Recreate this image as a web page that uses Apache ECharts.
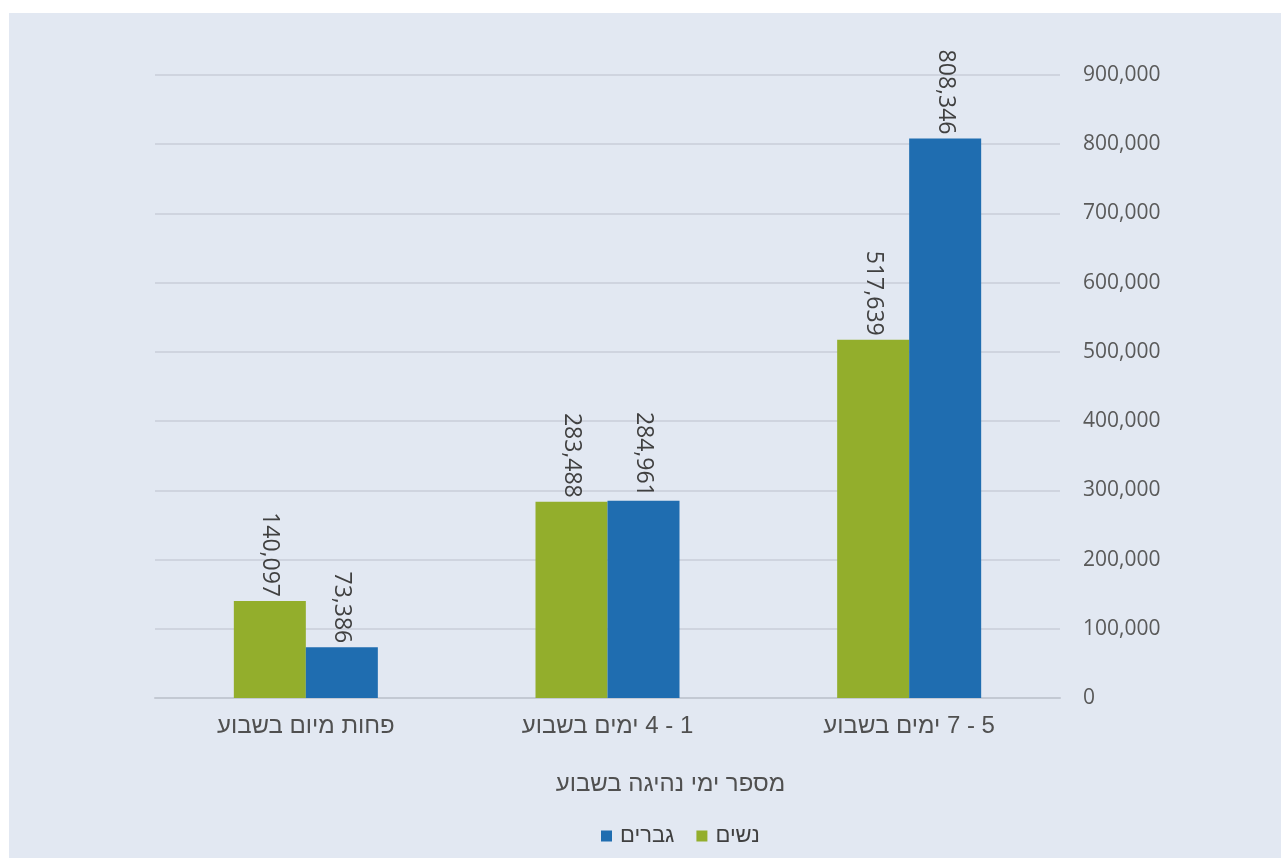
<!DOCTYPE html>
<html>
<head>
<meta charset="utf-8">
<script src="https://cdn.jsdelivr.net/npm/echarts@6/dist/echarts.min.js"></script>
<style>
html,body{margin:0;padding:0;background:#ffffff;width:1281px;height:858px;overflow:hidden;}
#c{position:absolute;left:9px;top:13px;width:1272px;height:845px;background:#e2e8f2;}
</style>
</head>
<body>
<div id="c" dir="rtl"></div>
<script>
const categories = ['פחות מיום בשבוע', '1 - 4 ימים בשבוע', '5 - 7 ימים בשבוע'];
const women = [140097, 283488, 517639];
const men = [73386, 284961, 808346];
const seriesNames = ['נשים', 'גברים'];
const axisName = 'מספר ימי נהיגה בשבוע';

const NUMFONT = "'Open Sans', 'Liberation Sans', sans-serif";
const HEBFONT = "'Liberation Sans', Arial, 'DejaVu Sans', sans-serif";
const chart = echarts.init(document.getElementById('c'), null, {renderer: 'canvas'});
const labelCfg = {
  show: true,
  position: 'top',
  distance: 4,
  rotate: -90,
  align: 'right',
  verticalAlign: 'middle',
  fontSize: 23,
  color: '#404040',
  fontFamily: NUMFONT,
  formatter: p => p.value.toLocaleString('en-US')
};
chart.setOption({
  backgroundColor: '#e2e8f2',
  animation: false,
  textStyle: {fontFamily: HEBFONT},
  grid: {left: 146, top: 62, width: 905, height: 623, containLabel: false},
  legend: {
    data: [seriesNames[1], seriesNames[0]],
    left: 587,
    top: 807,
    itemWidth: 11,
    itemHeight: 11,
    itemGap: 22,
    icon: 'rect',
    textStyle: {fontSize: 22, color: '#404040', fontFamily: HEBFONT, padding: [0, 0, 0, 3]}
  },
  xAxis: {
    type: 'category',
    data: categories,
    name: axisName,
    nameLocation: 'middle',
    nameGap: 74,
    nameTextStyle: {fontSize: 24, color: '#505050', fontFamily: HEBFONT, padding: [0, 0, 0, 126]},
    axisLine: {show: true, lineStyle: {color: '#c3c9d3', width: 2}},
    axisTick: {show: false},
    axisLabel: {fontSize: 24, color: '#505050', margin: 16, fontFamily: HEBFONT}
  },
  yAxis: {
    type: 'value',
    position: 'right',
    min: 0,
    max: 900000,
    interval: 100000,
    axisLine: {show: false},
    axisTick: {show: false},
    splitLine: {lineStyle: {color: '#c8ced8', width: 1.5}},
    axisLabel: {
      fontSize: 21, color: '#595959', margin: 23, fontFamily: NUMFONT,
      formatter: v => v.toLocaleString('en-US')
    }
  },
  series: [
    {name: seriesNames[0], type: 'bar', data: women, barWidth: 72, barGap: '0%',
     itemStyle: {color: '#93ae2c'}, label: labelCfg},
    {name: seriesNames[1], type: 'bar', data: men, barWidth: 72, barGap: '0%',
     itemStyle: {color: '#1f6db0'}, label: labelCfg}
  ]
});
</script>
</body>
</html>
